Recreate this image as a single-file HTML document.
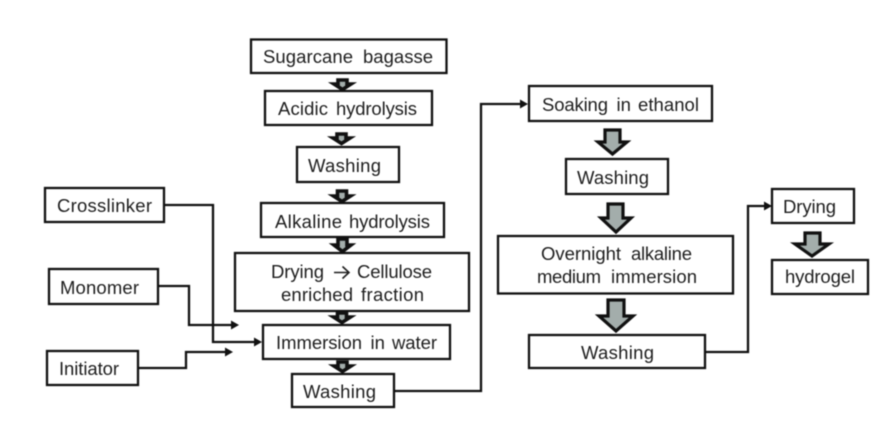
<!DOCTYPE html>
<html>
<head>
<meta charset="utf-8">
<style>
html,body{margin:0;padding:0;background:#fff;}
svg{display:block;}
text{font-family:"Liberation Sans",sans-serif;font-size:18.5px;fill:#1e1e1e;}
.b{fill:#fff;stroke:#111;stroke-width:2.3;}
.l{fill:none;stroke:#111;stroke-width:2.3;}
.t{fill:#111;}
.a{fill:#a3adab;stroke:#111;stroke-width:3.2;stroke-linejoin:miter;}
.s{fill:#a3adab;stroke:#111;stroke-width:3.6;stroke-linejoin:miter;}
</style>
</head>
<body>
<svg width="886" height="435" viewBox="0 0 886 435" xmlns="http://www.w3.org/2000/svg">
<g style="filter:blur(0.4px)">
<rect class="b" x="251" y="39.5" width="195.5" height="33.5"/>
<rect class="b" x="265" y="91" width="167" height="34"/>
<rect class="b" x="297" y="147" width="102" height="35"/>
<rect class="b" x="261" y="203" width="183" height="34"/>
<rect class="b" x="235" y="253" width="234" height="58"/>
<rect class="b" x="263" y="325" width="187" height="34"/>
<rect class="b" x="292" y="374" width="102" height="33"/>
<rect class="b" x="529" y="86" width="183" height="35"/>
<rect class="b" x="566" y="159" width="102" height="35"/>
<rect class="b" x="498" y="236" width="235" height="57.5"/>
<rect class="b" x="529" y="335" width="176" height="33"/>
<rect class="b" x="772" y="189" width="82" height="34"/>
<rect class="b" x="772" y="260" width="96" height="34"/>
<rect class="b" x="45" y="188" width="119" height="34"/>
<rect class="b" x="49" y="269" width="109" height="35"/>
<rect class="b" x="47" y="351" width="91" height="34"/>

<path class="l" d="M164 205H213V342H256"/>
<path class="t" d="M262 342L254 337.5V346.5Z"/>
<path class="l" d="M158 286H189V325H233"/>
<path class="t" d="M239 325L231 320.5V329.5Z"/>
<path class="l" d="M138 368H186V352H227"/>
<path class="t" d="M233 352L225 347.5V356.5Z"/>
<path class="l" d="M394 391H481V104H522"/>
<path class="t" d="M528 104L520 99.5V108.5Z"/>
<path class="l" d="M705 352H748V206H766"/>
<path class="t" d="M772 206L764 201.5V210.5Z"/>

<path class="s" d="M338 80H347V84H351L342.500 89.500L334 84H338Z"/>
<path class="s" d="M337 134H346V138H350L341.500 143.500L333 138H337Z"/>
<path class="s" d="M337.500 191H346.500V196H350.500L342 201.500L333.500 196H337.500Z"/>
<path class="s" d="M338 239H347V245H351L342.500 251.500L334 245H338Z"/>
<path class="s" d="M337.500 313H346.500V317H350.500L342 322.500L333.500 317H337.500Z"/>
<path class="s" d="M338 362H347V366H351L342.500 371.500L334 366H338Z"/>

<path class="a" d="M605 130H620V142H627L612.500 154L598 142H605Z"/>
<path class="a" d="M608 204H623V218H631L616 232L601 218H608Z"/>
<path class="a" d="M608 300H624V316H633L616 331L599 316H608Z"/>
<path class="a" d="M805 233H820V244H829L812 256L795 244H805Z"/>

<text x="263" y="63" textLength="90">Sugarcane</text><text x="363" y="63" textLength="70">bagasse</text>
<text x="278" y="115" textLength="50">Acidic</text><text x="336" y="115" textLength="81">hydrolysis</text>
<text x="308" y="172" textLength="73">Washing</text>
<text x="275" y="228" textLength="67">Alkaline</text><text x="349" y="228" textLength="81">hydrolysis</text>
<text x="271" y="278" textLength="53">Drying</text>
<path d="M334 272.500H348M342.500 266.500L349 272.500L342.500 278.500" fill="none" stroke="#1e1e1e" stroke-width="1.6"/>
<text x="357" y="278" textLength="75">Cellulose</text>
<text x="281" y="301" textLength="72">enriched</text><text x="361" y="301" textLength="63">fraction</text>
<text x="276" y="349" textLength="86">Immersion</text><text x="370.500" y="349">in</text><text x="392" y="349" textLength="45">water</text>
<text x="303" y="398" textLength="73">Washing</text>
<text x="542" y="111" textLength="66">Soaking</text><text x="616.500" y="111">in</text><text x="638" y="111" textLength="61">ethanol</text>
<text x="577" y="184" textLength="72">Washing</text>
<text x="541" y="260" textLength="80">Overnight</text><text x="631" y="260" textLength="61">alkaline</text>
<text x="537" y="283" textLength="64">medium</text><text x="611" y="283" textLength="86">immersion</text>
<text x="581" y="359" textLength="73">Washing</text>
<text x="783" y="213" textLength="53">Drying</text>
<text x="785" y="283" textLength="70">hydrogel</text>
<text x="57" y="212" textLength="95">Crosslinker</text>
<text x="60" y="294" textLength="79">Monomer</text>
<text x="59" y="375" textLength="60">Initiator</text>
</g>
</svg>
</body>
</html>
